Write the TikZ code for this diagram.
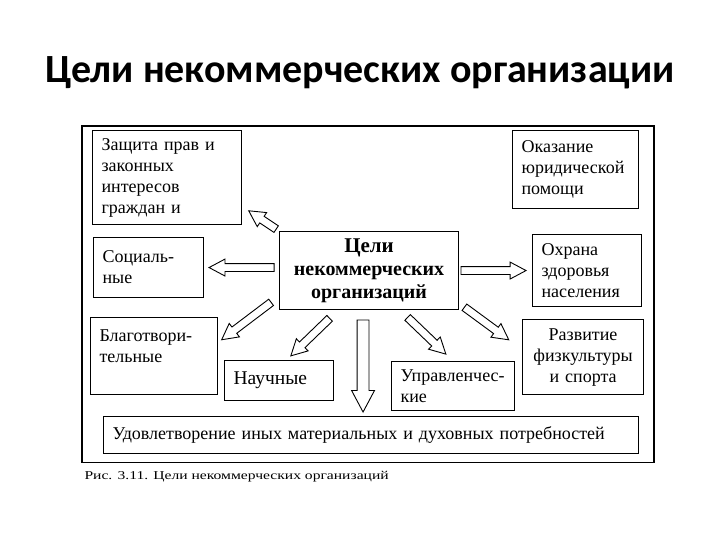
\documentclass[tikz,border=0pt]{standalone}
\usepackage{fontspec}
\setmainfont{Liberation Serif}
\newfontfamily\titlefont{Carlito}
\newfontfamily\capfont[FakeStretch=1.3]{Liberation Serif}
\usetikzlibrary{shapes.arrows,calc}

\tikzset{
  goalbox/.style={draw, line width=1.1pt, anchor=north west, align=left,
    inner xsep=9pt, inner ysep=3pt, minimum width=#1, text width=#1-18,
    font=\fontsize{18}{21}\selectfont},
  arrowbody/.style={single arrow, draw, fill=white, line width=.9pt, inner xsep=0pt, inner ysep=3.5pt,
    single arrow head extend=4.5pt, single arrow tip angle=56},
  arrlen/.store in=\arrlen, arrlen=50,
  arrgap/.store in=\arrgap, arrgap=5pt,
  hollow/.style={to path={
    let \p1=($(\tikztotarget)-(\tikztostart)$), \n1={atan2(\y1,\x1)} in
    node[arrowbody, minimum height=\arrlen, rotate=\n1, anchor=tip] at ($(\tikztotarget)!\arrgap!(\tikztostart)$) {}}},
}

\begin{document}
\begin{tikzpicture}[x=1pt, y=-1pt]
    \useasboundingbox (0,0) rectangle (720,540);
    \node[font=\titlefont\bfseries\fontsize{40}{48}\selectfont] (title) at (360,73) {Цели некоммерческих организации};

    \draw[line width=1.4pt] (82,126) rectangle (654,462.5);

    % goal in the middle
    \node[goalbox=179, minimum height=78, align=center, font=\bfseries\fontsize{20}{23}\selectfont] (goal) at (279,231)
        {{\fontsize{21}{24}\selectfont Цели}\\некоммерческих\\организаций};

    % left column
    \node[goalbox=149, minimum height=94] (rights) at (92,130) {Защита прав и\\законных\\интересов\\граждан и};
    \node[goalbox=110, minimum height=60] (social) at (93,237) {Социаль-\\ные};
    \node[goalbox=127, minimum height=77, text depth=40pt] (charity) at (90,317) {Благотвори-\\тельные};
    \node[goalbox=109, minimum height=40, font=\fontsize{19.5}{22}\selectfont] (science) at (224,360) {Научные};

    % right column
    \node[goalbox=126, minimum height=78] (legal) at (512,130) {Оказание\\юридической\\помощи};
    \node[goalbox=109, minimum height=72] (health) at (532,234) {Охрана\\здоровья\\населения};
    \node[goalbox=121, minimum height=75, align=center] (sport) at (522,319) {Развитие\\физкультуры\\и спорта};
    \node[goalbox=123, minimum height=49] (manage) at (391,361) {Управленчес-\\кие};

    \node[goalbox=535, minimum height=37] (needs) at (103,416) {Удовлетворение иных материальных и духовных потребностей};

    % hollow arrows from the goal
    \path (goal.north west) to[hollow, arrlen=33, arrgap=7pt] (rights.-21);
    \path (goal.west |- social.east) to[hollow, arrlen=65, arrgap=4pt] (social.east);
    \path (goal.196) to[hollow, arrlen=62, arrgap=3.5pt] (charity.12);
    \path (goal.232) to[hollow, arrlen=54, arrgap=5pt] (science.70);
    \path ($(goal.south)+(-6,0)$) to[arrowbody/.append style={inner ysep=5.5pt, single arrow head extend=5.5pt},
        hollow, arrlen=92, arrgap=3pt] ($(goal.south |- needs.north)+(-6,0)$);
    \path (goal.-52) to[hollow, arrlen=53, arrgap=9pt] (manage.north);
    \path (goal.-20) to[hollow, arrlen=55, arrgap=15.5pt] (sport.173);
    \path (goal.east) to[hollow, arrlen=65, arrgap=5pt] (health.west);

    \node[anchor=base west, font=\capfont\fontsize{12}{14}\selectfont] (caption) at (81,479)
        {Рис. 3.11. Цели некоммерческих организаций};
\end{tikzpicture}
\end{document}
